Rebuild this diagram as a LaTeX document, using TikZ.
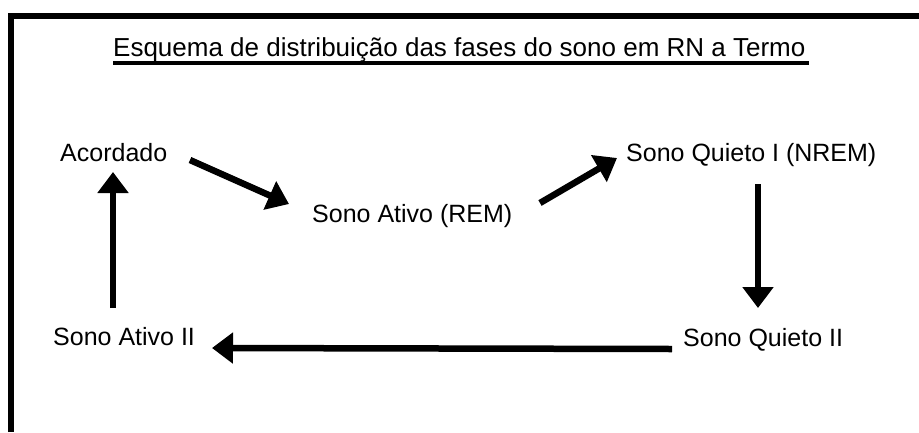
\documentclass[tikz,border=0pt]{standalone}
\usepackage{fontspec}
\setmainfont{Liberation Sans}
\usetikzlibrary{arrows.meta,calc}
\begin{document}
\begin{tikzpicture}[x=1pt,y=-1pt,
  lbl/.style={anchor=base west,inner sep=0pt,font=\fontsize{25}{30}\selectfont},
  arr/.style={line width=6.5pt,-{Triangle[length=21pt,width=30pt]}}]
\useasboundingbox (0,0) rectangle (919,432);
\draw[line width=6pt,line join=miter] (11,432) -- (11,16) -- (919,16);
\node[lbl,font=\fontsize{26}{31}\selectfont] (title) at (113,56) {Esquema de distribuição das fases do sono em RN a Termo};
\draw[line width=4pt] ($(title.base west)+(0,7)$) -- ($(title.base east)+(3,7)$);
\node[lbl] (acordado) at (60,161) {Acordado};
\node[lbl] (rem) at (312,222) {Sono Ativo (REM)};
\node[lbl] (nrem1) at (626,161) {Sono Quieto I (NREM)};
\node[lbl] (nrem2) at (683,346) {Sono Quieto II};
\node[lbl] (ativo2) at (53,345) {Sono Ativo II};
\draw[arr] ($(acordado.base west)+(130,-1)$) -- ($(rem.base west)+(-23,-18)$);
\draw[arr] ($(rem.base west)+(228,-19)$) -- ($(nrem1.base west)+(-9,-3)$);
\draw[arr] ($(nrem1.base west)+(132,23)$) -- ($(nrem2.base west)+(75,-38)$);
\draw[arr] ($(nrem2.base west)+(-11,3)$) -- ($(ativo2.base west)+(159,3)$);
\draw[arr] ($(ativo2.base west)+(60,-37)$) -- ($(acordado.base west)+(53,11)$);
\end{tikzpicture}
\end{document}
